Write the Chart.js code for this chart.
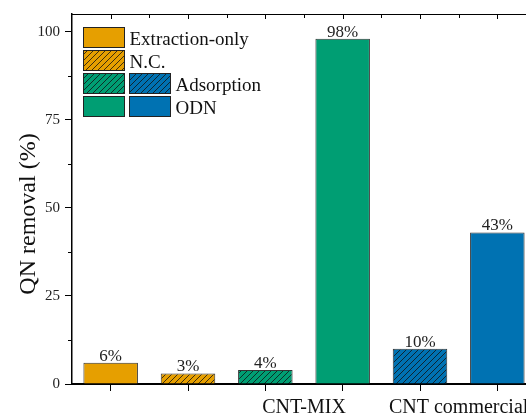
<!DOCTYPE html>
<html>
<head>
<meta charset="utf-8">
<script src="https://cdn.jsdelivr.net/npm/chart.js@4"></script>
<style>
  html, body { margin: 0; padding: 0; overflow: hidden; background: #fff; }
  #wrap { width: 540px; height: 414px; position: relative; }
</style>
</head>
<body>
<div id="wrap"><canvas id="c"></canvas></div>
<script>
// ---- data ----
const categories = ['Extraction-only', 'N.C.', 'Adsorption CNT-MIX', 'ODN CNT-MIX', 'Adsorption CNT commercial', 'ODN CNT commercial'];
const values = [6, 3, 4, 98, 10, 43];
const valueLabels = ['6%', '3%', '4%', '98%', '10%', '43%'];
const barColors = ['#E69F00', '#E69F00', '#009E73', '#009E73', '#0072B2', '#0072B2'];
const hatched = [false, true, true, false, true, false];
const groupLabels = ['CNT-MIX', 'CNT commercial'];
const groupStart = [2, 4];
const groupEnd = [3, 5];
const yTicks = [0, 25, 50, 75, 100];
const yMinorTicks = [12.5, 37.5, 62.5, 87.5];
const legendLabels = ['Extraction-only', 'N.C.', 'Adsorption', 'ODN'];

const SERIF = '"Liberation Serif", "Times New Roman", Times, "DejaVu Serif", serif';

function makeHatch(color) {
  const s = 6;
  const c = document.createElement('canvas');
  c.width = s; c.height = s;
  const g = c.getContext('2d');
  g.fillStyle = color;
  g.fillRect(0, 0, s, s);
  g.strokeStyle = '#111';
  g.lineWidth = 0.8;
  g.beginPath();
  g.moveTo(-1, s + 1); g.lineTo(s + 1, -1);
  g.moveTo(-s / 2 - 1, s / 2 + 1); g.lineTo(s / 2 + 1, -s / 2 - 1);
  g.moveTo(s / 2 - 1, s * 1.5 + 1); g.lineTo(s * 1.5 + 1, s / 2 - 1);
  g.stroke();
  return g.createPattern(c, 'repeat');
}

const fills = barColors.map((col, i) => hatched[i] ? makeHatch(col) : col);

const decorPlugin = {
  id: 'decor',
  afterDraw(chart) {
    const ctx = chart.ctx;
    const ca = chart.chartArea;
    const x = chart.scales.x, y = chart.scales.y;
    ctx.save();
    // top axis line + inward ticks
    ctx.strokeStyle = '#000';
    ctx.lineWidth = 1;
    ctx.beginPath();
    ctx.moveTo(ca.left, ca.top + 0.5); ctx.lineTo(ca.right, ca.top + 0.5);
    for (let i = 0; i < categories.length; i++) {
      const px = Math.round(x.getPixelForValue(i)) + 0.5;
      ctx.moveTo(px, ca.top); ctx.lineTo(px, ca.top + 5);
      if (i < categories.length - 1) {
        const mx = Math.round((x.getPixelForValue(i) + x.getPixelForValue(i + 1)) / 2) + 0.5;
        ctx.moveTo(mx, ca.top); ctx.lineTo(mx, ca.top + 4);
      }
    }
    // left minor ticks
    yMinorTicks.forEach(v => {
      const py = Math.round(y.getPixelForValue(v)) + 0.5;
      ctx.moveTo(ca.left, py); ctx.lineTo(ca.left - 4, py);
    });
    ctx.stroke();

    // value labels
    const meta = chart.getDatasetMeta(0);
    ctx.fillStyle = '#222';
    ctx.font = '17px ' + SERIF;
    ctx.textAlign = 'center';
    ctx.textBaseline = 'alphabetic';
    meta.data.forEach((bar, i) => {
      ctx.fillText(valueLabels[i], bar.x, bar.y - 2);
    });

    // group labels under x axis
    ctx.font = '20px ' + SERIF;
    ctx.fillStyle = '#111';
    groupLabels.forEach((lab, k) => {
      const cx = (x.getPixelForValue(groupStart[k]) + x.getPixelForValue(groupEnd[k])) / 2;
      ctx.fillText(lab, cx, 413);
    });

    // y-axis title
    ctx.save();
    ctx.translate(35, 214);
    ctx.rotate(-Math.PI / 2);
    ctx.font = '24px ' + SERIF;
    ctx.textAlign = 'center';
    ctx.fillText('QN removal (%)', 0, 0);
    ctx.restore();

    // legend
    const L = ca.left;
    const rows = [27, 50, 73, 96];
    const pw = 41, ph = 20;
    const c1 = L + 11.5, c2 = L + 57.5;
    const items = [
      { cols: [[c1, fills[0]]], text: legendLabels[0], tx: c1 + 46 },
      { cols: [[c1, fills[1]]], text: legendLabels[1], tx: c1 + 46 },
      { cols: [[c1, fills[2]], [c2, fills[4]]], text: legendLabels[2], tx: c2 + 46 },
      { cols: [[c1, fills[3]], [c2, fills[5]]], text: legendLabels[3], tx: c2 + 46 }
    ];
    ctx.font = '19px ' + SERIF;
    ctx.textAlign = 'left';
    ctx.lineWidth = 1;
    ctx.strokeStyle = '#222';
    items.forEach((it, r) => {
      const top = rows[r] + 0.5;
      it.cols.forEach(([cx, f]) => {
        ctx.fillStyle = f;
        ctx.fillRect(cx, top, pw, ph);
        ctx.strokeRect(cx, top, pw, ph);
      });
      ctx.fillStyle = '#111';
      ctx.fillText(it.text, it.tx, top + ph - 3);
    });
    ctx.restore();
  }
};

function build() {
  new Chart(document.getElementById('c'), {
    type: 'bar',
    data: {
      labels: categories,
      datasets: [{
        data: values,
        backgroundColor: fills,
        borderColor: '#333',
        borderWidth: 1,
        borderSkipped: 'bottom',
        barPercentage: 0.705,
        categoryPercentage: 1.0
      }]
    },
    options: {
      responsive: true,
      maintainAspectRatio: false,
      animation: false,
      devicePixelRatio: 1,
      layout: { padding: { left: 0, right: 4, top: 13, bottom: 0 } },
      plugins: { legend: { display: false }, tooltip: { enabled: false } },
      scales: {
        x: {
          type: 'category',
          offset: true,
          grid: { display: true, drawOnChartArea: false, drawTicks: true, tickLength: 7, tickColor: '#000', tickWidth: 1, offset: false },
          border: { display: true, color: '#000', width: 2 },
          ticks: { display: false },
          afterFit(s) { s.height = 30; }
        },
        y: {
          min: 0,
          max: 105,
          afterBuildTicks(s) { s.ticks = yTicks.map(v => ({ value: v })); },
          grid: { display: true, drawOnChartArea: false, drawTicks: true, tickLength: 7, tickColor: '#000', tickWidth: 1 },
          border: { display: true, color: '#000', width: 1.5 },
          ticks: { padding: 5, color: '#222', font: { family: SERIF, size: 15 } },
          afterFit(s) { s.width = 72; }
        }
      }
    },
    plugins: [decorPlugin]
  });
}

Promise.all([
  document.fonts.load('20px "Liberation Serif"'),
  document.fonts.load('20px "DejaVu Serif"')
]).catch(() => {}).then(build);
</script>
</body>
</html>
